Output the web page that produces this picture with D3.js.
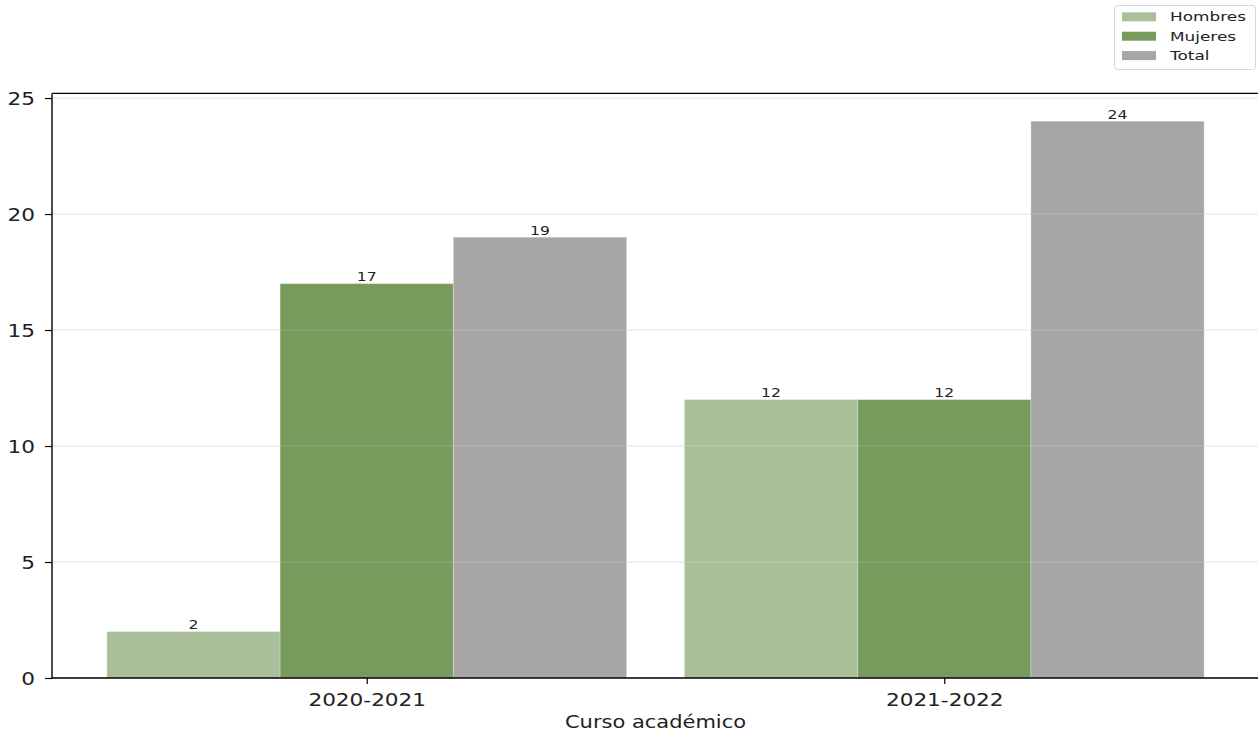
<!DOCTYPE html>
<html>
<head>
<meta charset="utf-8">
<script src="https://cdnjs.cloudflare.com/ajax/libs/d3/7.8.5/d3.min.js"></script>
<style>
  body { margin: 0; background: #fff; }
  text { font-family: "DejaVu Sans", sans-serif; fill: #222; }
</style>
</head>
<body>
<svg id="chart"></svg>
<script>
// Data
const categories = ['2020-2021', '2021-2022'];
const seriesNames = ['Hombres', 'Mujeres', 'Total'];
const hombres = [2, 12];
const mujeres = [17, 12];
const total = [19, 24];
const yTicks = [0, 5, 10, 15, 20, 25];

const seriesValues = [hombres, mujeres, total];
const colors = ['#a9c09a', '#789b5d', '#a6a6a6'];

const width = 1258, height = 735;
const margin = { left: 52, top: 93.4, bottom: 678 };

const svg = d3.select('#chart')
    .attr('width', width)
    .attr('height', height);

// x in category units, like a grouped bar plot with width 0.3
const barW = 0.3;
const offsets = [-0.3, 0, 0.3];
const x = d3.scaleLinear().domain([-0.545, 1.545]).range([margin.left, 1259]);
const y = d3.scaleLinear().domain([0, 25.2]).range([margin.bottom, margin.top]);

// horizontal stretch of text in the original picture
const sx = 1.2;

// gridlines behind bars
const grid = svg.append('g');
function drawGrid(g, color, opacity) {
    g.selectAll('line')
        .data(yTicks)
        .enter()
        .append('line')
        .attr('x1', x.range()[0])
        .attr('x2', x.range()[1])
        .attr('y1', d => y(d))
        .attr('y2', d => y(d))
        .attr('stroke', color)
        .attr('stroke-opacity', opacity)
        .attr('stroke-width', 1);
}
drawGrid(grid, '#e0e0e0', 1);

// bars
const labels = [];
seriesValues.forEach((vals, s) => {
    const g = svg.append('g');
    g.selectAll('rect')
        .data(vals)
        .enter()
        .append('rect')
        .attr('x', (d, i) => x(i + offsets[s] - barW / 2))
        .attr('width', x(barW) - x(0))
        .attr('y', d => y(d))
        .attr('height', d => y(0) - y(d))
        .attr('fill', colors[s])
        .attr('stroke', '#fff')
        .attr('stroke-opacity', 0.25)
        .attr('stroke-width', 1);
    labels.push({ vals, s });
});

// faint gridlines showing through the bars
drawGrid(svg.append('g'), '#fff', 0.18);

// value labels
labels.forEach(({ vals, s }) => {
    svg.append('g').selectAll('text')
        .data(vals)
        .enter()
        .append('text')
        .attr('transform', (d, i) => `translate(${x(i + offsets[s])},${y(d) - 2.5}) scale(${sx},1)`)
        .attr('text-anchor', 'middle')
        .style('font-size', '13px')
        .text(d => d);
});

// y axis
const yAxis = svg.append('g')
    .attr('transform', `translate(${margin.left},0)`)
    .call(d3.axisLeft(y).tickValues(yTicks).tickSize(7).tickPadding(0).tickSizeOuter(0));
yAxis.select('.domain').remove();
yAxis.selectAll('.tick line').attr('stroke', '#000').attr('stroke-width', 1.2);
yAxis.selectAll('.tick text')
    .attr('x', null).attr('dy', null)
    .attr('transform', `translate(-17,6.5) scale(${sx},1)`)
    .style('font-size', '18px')
    .attr('fill', '#222');

// x axis
const xAxis = svg.append('g')
    .attr('transform', `translate(0,${margin.bottom})`)
    .call(d3.axisBottom(x).tickValues([0, 1]).tickFormat(i => categories[i]).tickSize(6).tickPadding(0).tickSizeOuter(0));
xAxis.select('.domain').remove();
xAxis.selectAll('.tick line').attr('stroke', '#000').attr('stroke-width', 1.2);
xAxis.selectAll('.tick text')
    .attr('y', null).attr('dy', null)
    .attr('transform', `translate(0,27.5) scale(${sx},1)`)
    .style('font-size', '18px')
    .attr('fill', '#222');

// spines: left, top, bottom
const spine = svg.append('g').attr('stroke', '#000').attr('stroke-width', 1.4);
spine.append('line').attr('x1', margin.left).attr('x2', margin.left).attr('y1', y(0)).attr('y2', y(25.2));
spine.append('line').attr('x1', margin.left).attr('x2', width).attr('y1', y(25.2)).attr('y2', y(25.2));
spine.append('line').attr('x1', margin.left).attr('x2', width).attr('y1', y(0)).attr('y2', y(0));

// axis title
svg.append('text')
    .attr('transform', `translate(${(margin.left + 1259) / 2},728) scale(${sx},1)`)
    .attr('text-anchor', 'middle')
    .style('font-size', '17.5px')
    .text('Curso académico');

// legend
const legend = svg.append('g');
legend.append('rect')
    .attr('x', 1114.5).attr('y', 5.5)
    .attr('width', 141).attr('height', 64)
    .attr('rx', 3)
    .attr('fill', '#fff')
    .attr('stroke', '#d6d6d6');

seriesNames.forEach((name, s) => {
    const cy = 16.8 + s * 19.4;
    legend.append('rect')
        .attr('x', 1122).attr('y', cy - 4.5)
        .attr('width', 34).attr('height', 9)
        .attr('fill', colors[s]);
    legend.append('text')
        .attr('transform', `translate(1170,${cy + 4.6}) scale(1.3,1)`)
        .style('font-size', '13px')
        .text(name);
});
</script>
</body>
</html>
